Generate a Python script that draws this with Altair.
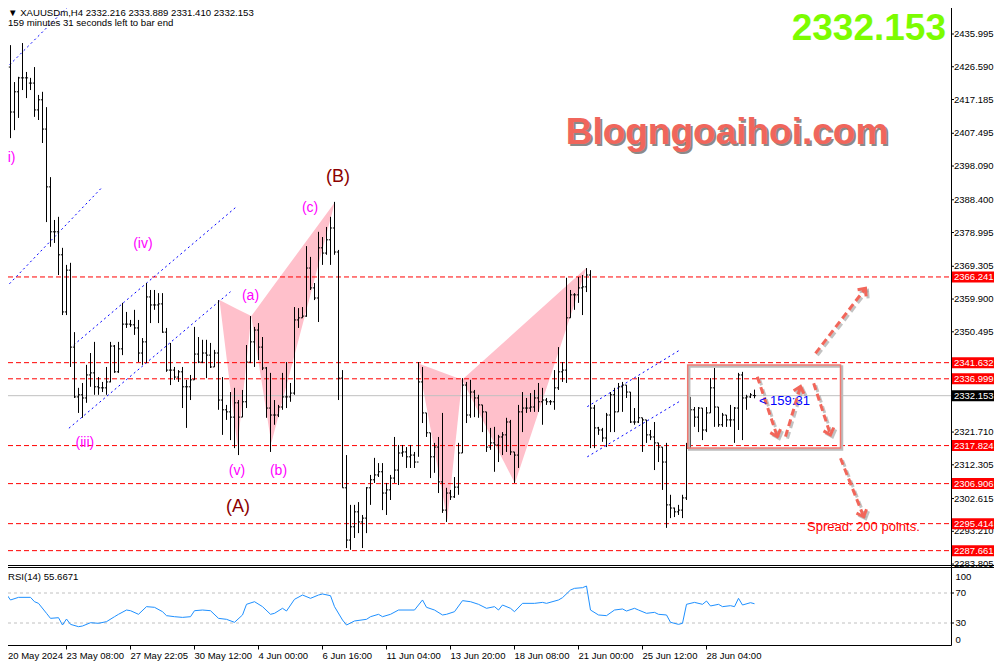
import math
import altair as alt
import pandas as pd

# ---------------- data ----------------
highs = [
    2438.6, 2430.0, 2432.8, 2422.2, 2423.7, 2433.4, 2425.1, 2423.4, 2426.5, 2418.5,
    2419.4, 2415.0, 2394.9, 2382.6, 2383.5, 2374.6, 2369.7, 2370.3, 2350.4, 2334.4,
    2335.8, 2341.0, 2344.4, 2347.6, 2337.5, 2336.1, 2340.4, 2347.6, 2346.7, 2347.6,
    2358.8, 2356.2, 2353.9, 2356.8, 2353.9, 2348.7, 2364.5, 2362.5, 2362.5, 2361.6,
    2361.6, 2351.6, 2347.3, 2340.4, 2339.5, 2340.4, 2336.7, 2338.1, 2351.9, 2349.0,
    2348.2, 2348.2, 2347.3, 2345.3, 2359.6, 2337.5, 2329.5, 2333.2, 2334.4, 2330.9,
    2333.8, 2346.7, 2355.0, 2351.9, 2353.0, 2349.0, 2340.4, 2338.7, 2330.9, 2329.5,
    2338.7, 2341.8, 2335.8, 2357.6, 2357.3, 2357.6, 2375.1, 2372.0, 2364.5, 2379.2,
    2377.7, 2380.6, 2383.5, 2387.8, 2374.0, 2339.5, 2315.1, 2300.8, 2300.8, 2301.6,
    2297.9, 2305.9, 2309.4, 2314.3, 2312.8, 2312.8, 2307.1, 2309.4, 2320.3, 2318.0,
    2318.0, 2317.4, 2318.0, 2316.0, 2341.8, 2340.4, 2327.2, 2321.5, 2318.6, 2320.3,
    2327.2, 2305.7, 2305.1, 2308.8, 2318.6, 2337.2, 2336.1, 2336.7, 2333.8, 2332.4,
    2329.5, 2327.5, 2322.9, 2323.2, 2320.9, 2321.7, 2325.8, 2325.2, 2316.0, 2329.5,
    2333.2, 2331.5, 2332.9, 2333.8, 2335.8, 2334.4, 2331.5, 2330.9, 2339.5, 2346.1,
    2341.8, 2366.0, 2362.5, 2361.6, 2366.2, 2366.8, 2368.8, 2368.2, 2329.5, 2323.2,
    2322.9, 2327.2, 2333.2, 2334.4, 2335.8, 2336.1, 2335.2, 2333.2, 2328.6, 2337.5,
    2325.8, 2325.2, 2322.3, 2324.6, 2318.6, 2317.4, 2318.6, 2303.7, 2300.0, 2300.8,
    2303.7, 2318.6, 2331.8, 2328.9, 2328.9, 2328.6, 2328.9, 2337.2, 2340.1, 2328.9,
    2327.2, 2326.6, 2329.5, 2328.9, 2338.7, 2339.0, 2332.4, 2332.9, 2333.889]
lows = [
    2422.2, 2423.4, 2406.1, 2408.4, 2411.9, 2419.9, 2417.6, 2419.9, 2412.2, 2411.3,
    2404.7, 2382.0, 2374.9, 2376.0, 2366.8, 2355.3, 2355.3, 2340.4, 2331.5, 2327.2,
    2325.8, 2330.1, 2334.7, 2332.4, 2332.4, 2333.2, 2332.4, 2336.0, 2338.7, 2338.7,
    2343.8, 2351.6, 2351.9, 2349.6, 2341.8, 2341.0, 2341.5, 2353.0, 2356.8, 2353.0,
    2350.2, 2339.0, 2335.2, 2336.7, 2336.1, 2328.6, 2322.9, 2330.9, 2336.7, 2341.5,
    2341.5, 2337.2, 2340.1, 2340.4, 2328.1, 2320.9, 2325.2, 2319.4, 2317.1, 2315.1,
    2326.0, 2328.6, 2341.5, 2340.4, 2342.4, 2339.5, 2325.8, 2316.0, 2323.8, 2326.0,
    2328.1, 2328.6, 2330.4, 2332.4, 2351.6, 2354.5, 2354.8, 2362.5, 2359.6, 2353.3,
    2369.7, 2372.6, 2369.7, 2372.6, 2330.9, 2305.7, 2288.4, 2287.9, 2291.3, 2292.7,
    2288.4, 2292.7, 2300.8, 2307.1, 2308.8, 2299.3, 2297.9, 2302.2, 2307.1, 2306.5,
    2314.6, 2311.4, 2311.4, 2311.4, 2314.6, 2324.3, 2320.3, 2308.5, 2310.0, 2304.2,
    2298.5, 2295.9, 2302.2, 2302.8, 2303.7, 2315.7, 2324.3, 2325.8, 2326.0, 2325.8,
    2321.7, 2316.0, 2316.6, 2310.3, 2313.1, 2315.1, 2316.0, 2315.1, 2307.1, 2311.4,
    2321.7, 2327.2, 2327.5, 2327.5, 2327.5, 2323.8, 2329.5, 2329.5, 2328.1, 2333.8,
    2336.1, 2335.8, 2354.5, 2356.8, 2358.8, 2355.3, 2361.9, 2317.1, 2317.1, 2320.9,
    2318.9, 2317.4, 2321.7, 2321.7, 2327.5, 2327.5, 2331.5, 2324.3, 2323.8, 2324.3,
    2316.0, 2318.6, 2319.4, 2310.8, 2313.1, 2305.1, 2294.2, 2297.0, 2297.3, 2297.9,
    2297.0, 2302.2, 2316.6, 2323.2, 2321.7, 2319.4, 2321.7, 2327.2, 2323.2, 2323.2,
    2323.2, 2323.2, 2323.2, 2318.6, 2322.3, 2319.4, 2328.1, 2331.5, 2331.410]
opens = [
    2426.5, 2426.2, 2426.5, 2413.6, 2419.4, 2423.4, 2423.4, 2421.9, 2421.9, 2414.2,
    2417.1, 2408.7, 2392.1, 2379.2, 2379.2, 2372.6, 2356.2, 2368.2, 2346.1, 2331.8,
    2332.4, 2331.5, 2338.1, 2338.7, 2334.7, 2334.4, 2334.4, 2336.1, 2346.4, 2339.0,
    2345.6, 2352.7, 2352.7, 2352.5, 2351.6, 2344.4, 2347.6, 2360.5, 2358.2, 2358.2,
    2358.5, 2350.4, 2339.5, 2339.5, 2337.5, 2339.0, 2334.7, 2334.7, 2336.7, 2344.1,
    2341.8, 2344.4, 2343.8, 2340.4, 2344.4, 2330.9, 2328.1, 2327.5, 2326.0, 2330.1,
    2326.0, 2330.4, 2341.8, 2347.6, 2351.0, 2346.1, 2340.1, 2328.6, 2326.6, 2326.6,
    2328.9, 2331.8, 2331.8, 2332.9, 2353.9, 2354.5, 2355.0, 2368.8, 2363.1, 2360.2,
    2374.6, 2373.1, 2376.9, 2380.3, 2373.4, 2337.2, 2305.7, 2290.7, 2294.5, 2298.8,
    2295.9, 2297.0, 2305.7, 2308.0, 2309.4, 2310.3, 2304.2, 2305.1, 2308.5, 2310.8,
    2315.7, 2316.0, 2314.6, 2315.1, 2313.1, 2336.1, 2327.2, 2321.5, 2314.6, 2317.4,
    2307.4, 2299.3, 2304.2, 2303.1, 2305.9, 2315.7, 2335.2, 2326.6, 2333.2, 2331.5,
    2329.5, 2327.5, 2317.4, 2318.6, 2318.0, 2320.3, 2320.9, 2324.6, 2316.0, 2315.1,
    2327.5, 2328.6, 2328.6, 2328.9, 2331.5, 2330.4, 2330.9, 2330.4, 2330.4, 2334.4,
    2339.0, 2339.5, 2354.5, 2361.1, 2361.1, 2363.1, 2363.4, 2366.8, 2328.6, 2322.9,
    2322.3, 2320.0, 2326.6, 2332.4, 2327.5, 2334.7, 2335.2, 2333.2, 2324.6, 2324.6,
    2325.8, 2325.2, 2320.9, 2320.3, 2318.6, 2317.4, 2313.1, 2300.8, 2299.9, 2298.8,
    2299.3, 2302.8, 2317.1, 2328.1, 2326.0, 2328.6, 2322.3, 2327.2, 2334.4, 2328.9,
    2323.8, 2326.6, 2325.2, 2325.2, 2328.6, 2338.1, 2331.5, 2331.8, 2332.216]
closes = [
    2425.7, 2426.5, 2413.6, 2419.4, 2423.4, 2423.4, 2423.4, 2421.9, 2414.2, 2417.1,
    2408.7, 2392.1, 2379.2, 2379.2, 2372.6, 2356.2, 2368.2, 2346.1, 2331.8, 2332.4,
    2331.5, 2338.1, 2338.7, 2334.7, 2334.4, 2334.4, 2336.1, 2346.4, 2339.0, 2345.6,
    2352.7, 2352.7, 2352.5, 2351.6, 2344.4, 2347.6, 2360.5, 2358.2, 2358.2, 2358.5,
    2350.4, 2339.5, 2339.5, 2337.5, 2339.0, 2334.7, 2334.7, 2336.7, 2344.1, 2341.8,
    2344.4, 2343.8, 2340.4, 2344.4, 2330.9, 2328.1, 2327.5, 2326.0, 2330.1, 2326.0,
    2330.4, 2341.8, 2347.6, 2351.0, 2346.1, 2340.1, 2328.6, 2326.6, 2326.6, 2328.9,
    2331.8, 2331.8, 2332.9, 2353.9, 2354.5, 2355.0, 2368.8, 2363.1, 2360.2, 2374.6,
    2373.1, 2376.9, 2380.3, 2373.4, 2337.2, 2305.7, 2290.7, 2294.5, 2298.8, 2295.9,
    2297.0, 2305.7, 2308.0, 2309.4, 2310.3, 2304.2, 2305.1, 2308.5, 2310.8, 2315.7,
    2316.0, 2314.6, 2315.1, 2313.1, 2336.1, 2327.2, 2321.5, 2314.6, 2317.4, 2307.4,
    2299.3, 2304.2, 2303.1, 2305.9, 2315.7, 2335.2, 2326.6, 2333.2, 2331.5, 2329.5,
    2327.5, 2317.4, 2318.6, 2318.0, 2320.3, 2320.9, 2324.6, 2316.0, 2315.1, 2327.5,
    2328.6, 2328.6, 2328.9, 2331.5, 2330.4, 2330.9, 2330.4, 2330.4, 2334.4, 2339.0,
    2339.5, 2354.5, 2361.1, 2361.1, 2363.1, 2363.4, 2366.8, 2328.6, 2322.9, 2322.3,
    2320.0, 2326.6, 2332.4, 2327.5, 2334.7, 2335.2, 2333.2, 2324.6, 2324.6, 2325.8,
    2325.2, 2320.9, 2320.3, 2318.6, 2317.4, 2313.1, 2300.8, 2299.9, 2298.8, 2299.3,
    2302.8, 2317.1, 2328.1, 2326.0, 2328.6, 2322.3, 2327.2, 2334.4, 2328.9, 2323.8,
    2326.6, 2325.2, 2325.2, 2328.6, 2338.1, 2331.5, 2331.8, 2332.4, 2332.153]

rsi_bar = [0, 1, 2, 4, 7, 8, 9, 11, 12, 14, 15, 16, 17, 19, 20, 22, 24, 26, 28, 29,
           31, 32, 34, 36, 38, 40, 41, 43, 45, 47, 48, 50, 52, 54, 56, 58, 60, 61, 63, 65,
           67, 68, 70, 71, 73, 75, 77, 79, 80, 82, 83, 85, 86, 88, 91, 92, 94, 95, 97, 99,
           103, 105, 106, 108, 110, 111, 113, 115, 117, 119, 121, 123, 124, 125, 127, 128,
           130, 133, 135, 136, 139, 140, 142, 143, 145, 146, 147, 149, 151, 153, 155, 156,
           158, 159, 161, 163, 164, 166, 167, 169, 170, 171, 173, 175, 176, 177, 179, 180,
           182, 183, 184, 185, 187, 188]
rsi_val = [69.6, 68.2, 60.7, 64.2, 64.2, 58.4, 56.2, 42.9, 36.2, 37.1, 27.3, 35.3, 28.2,
           25.1, 26.0, 30.4, 29.6, 31.8, 38.4, 41.6, 47.3, 46.4, 41.6, 51.8, 50.9, 45.1,
           39.8, 38.4, 37.5, 38.4, 46.4, 47.3, 46.4, 36.2, 34.9, 30.9, 40.7, 54.9, 58.4,
           51.8, 41.6, 42.9, 49.6, 46.0, 61.6, 67.3, 62.9, 67.3, 68.7, 66.4, 51.8, 34.0,
           27.3, 32.7, 34.9, 38.4, 41.6, 38.4, 41.6, 47.3, 47.3, 60.7, 50.9, 47.3, 40.7,
           41.6, 45.1, 59.8, 58.4, 54.9, 49.6, 51.8, 47.3, 54.0, 49.6, 45.1, 56.2, 56.2,
           57.5, 56.2, 60.7, 63.8, 74.0, 76.2, 77.1, 79.3, 47.3, 40.7, 39.8, 47.3, 48.7,
           46.0, 49.6, 47.3, 42.9, 44.2, 41.6, 40.7, 30.9, 28.2, 29.6, 54.9, 57.5, 54.9,
           59.3, 52.7, 54.9, 51.8, 53.1, 51.8, 62.9, 54.0, 57.1, 55.7]

levels = [2366.241, 2341.632, 2336.999, 2317.824, 2306.906, 2295.414, 2287.661]
last_price = 2332.153
price_ticks = [2435.995, 2426.590, 2417.185, 2407.495, 2398.090, 2388.400, 2378.995,
               2369.305, 2359.900, 2350.495, 2321.710, 2312.305, 2302.615, 2293.210, 2283.805]
rsi_ticks = [100, 70, 30, 0]
date_ticks = [16, 32, 48, 64, 80, 96, 112, 128, 144, 160, 176]
date_labels = ["23 May 08:00", "27 May 22:05", "30 May 12:00", "4 Jun 00:00", "6 Jun 16:00",
               "11 Jun 04:00", "13 Jun 20:00", "18 Jun 08:00", "21 Jun 00:00",
               "25 Jun 12:00", "28 Jun 04:00"]
first_date_label = "20 May 2024"

wave_text = ["(i)", "(iv)", "(iii)", "(v)", "(a)", "(b)", "(c)"]
wave_bar = [1.7, 35.1, 20.6, 58.6, 62.0, 69.0, 76.9]
wave_price = [2400.4, 2375.7, 2318.6, 2310.5, 2360.8, 2310.5, 2386.0]
big_text = ["(B)", "(A)"]
big_bar = [83.9, 58.9]
big_price = [2394.9, 2300.2]

tri_bar = [[54.25, 62.2, 58.75], [62.2, 67.2, 83.1], [104.0, 114.9, 111.2], [114.9, 128.1, 146.0]]
tri_price = [[2359.6, 2355.0, 2317.5], [2355.0, 2318.6, 2387.7],
             [2341.4, 2336.7, 2296.5], [2336.7, 2307.0, 2368.9]]

chan_bar = [[0, 17.5], [0, 25], [17.8, 58.7], [16.6, 57.0], [146.2, 169.1], [146.2, 169.1]]
chan_price = [[2425.1, 2445.2], [2362.2, 2392.1], [2346.7, 2386.6], [2322.8, 2362.0],
              [2329.0, 2345.1], [2314.6, 2330.4]]

arrow_bar = [[188.7, 193.7], [195.75, 199.5], [202.8, 207.0], [203.25, 215.75], [209.5, 215.3]]
arrow_price = [[2337.6, 2320.4], [2320.4, 2334.8], [2335.7, 2320.9], [2344.3, 2363.0], [2314.2, 2297.4]]

box_bar = [171.3, 209.5]
box_price = [2340.97, 2317.1]

header1 = "\u25bc XAUUSDm,H4  2332.216 2333.889 2331.410 2332.153"
header2 = "159 minutes 31 seconds left to bar end"
rsi_title = "RSI(14) 55.6671"

# ---------------- scales ----------------
W, H = 986, 656
PX_PER_BAR = 4.0
PX_PER_PRICE = 557.0 / (2443.46 - 2283.54)
XS = alt.Scale(domain=[0, 236], range=[-5.5, 938.5], zero=False, nice=False)
PS = alt.Scale(domain=[2283.54, 2443.46], range=[557, 0], zero=False, nice=False)
RS = alt.Scale(domain=[0, 100], range=[637.5, 562.5], zero=False, nice=False)
LAB_X = 945.5


def X(f):
    return alt.X(f, type="quantitative", scale=XS, axis=None)


def P(f):
    return alt.Y(f, type="quantitative", scale=PS, axis=None)


def R(f):
    return alt.Y(f, type="quantitative", scale=RS, axis=None)


SANS = "Liberation Sans"
layers = []

# pink triangles (area between the two boundaries of each triangle)
tri_rows = []
for k, (bx, py) in enumerate(zip(tri_bar, tri_price)):
    pts = sorted(zip(bx, py))
    (x0, y0), (x1, y1), (x2, y2) = pts
    mid = y0 + (y2 - y0) * (x1 - x0) / (x2 - x0)
    tri_rows += [dict(t=k, i=x0, a=y0, b=y0), dict(t=k, i=x1, a=y1, b=mid),
                 dict(t=k, i=x2, a=y2, b=y2)]
layers.append(alt.Chart(pd.DataFrame(tri_rows)).mark_area(color="#FFC0CB", opacity=1)
              .encode(x=X("i"), y=P("a"), y2=alt.Y2("b"), detail="t:N"))

# level lines
layers.append(alt.Chart(pd.DataFrame({"p": levels})).mark_rule(
    color="#FF0000", strokeWidth=1, strokeDash=[5, 3])
    .encode(x=alt.value(0), x2=alt.value(943), y=P("p")))
layers.append(alt.Chart(pd.DataFrame({"p": [last_price]})).mark_rule(
    color="#C0C0C0", strokeWidth=1)
    .encode(x=alt.value(0), x2=alt.value(943), y=P("p")))

# blue dotted channels
ch_rows = []
for k, (bx, py) in enumerate(zip(chan_bar, chan_price)):
    for a, b in zip(bx, py):
        ch_rows.append(dict(g=k, i=a, p=b))
layers.append(alt.Chart(pd.DataFrame(ch_rows)).mark_line(
    color="#0000FF", strokeWidth=1, strokeDash=[2, 3])
    .encode(x=X("i"), y=P("p"), detail="g:N"))

# OHLC bars
n = min(len(highs), len(lows), len(opens), len(closes))
bars = pd.DataFrame({"i": list(range(n)), "h": highs[:n], "l": lows[:n],
                     "o": opens[:n], "c": closes[:n]})
base = alt.Chart(bars)
layers.append(base.mark_rule(color="black", strokeWidth=1)
              .encode(x=X("i"), y=P("l"), y2=alt.Y2("h")))
layers.append(base.transform_calculate(a="datum.i - 0.4").mark_rule(color="black", strokeWidth=1)
              .encode(x=X("a"), x2=alt.X2("i"), y=P("o")))
layers.append(base.transform_calculate(b="datum.i + 0.4").mark_rule(color="black", strokeWidth=1)
              .encode(x=X("i"), x2=alt.X2("b"), y=P("c")))

# box
box_df = pd.DataFrame({"x1": [box_bar[0]], "x2": [box_bar[1]], "p1": [box_price[0]], "p2": [box_price[1]]})
layers.append(alt.Chart(box_df).mark_rect(fill="transparent", stroke="#BDBDBD", strokeWidth=2.5,
                                          xOffset=1.5, yOffset=1.5, x2Offset=1.5, y2Offset=1.5)
              .encode(x=X("x1"), x2=alt.X2("x2"), y=P("p1"), y2=alt.Y2("p2")))
layers.append(alt.Chart(box_df).mark_rect(fill="transparent", stroke="#F07870", strokeWidth=1.5)
              .encode(x=X("x1"), x2=alt.X2("x2"), y=P("p1"), y2=alt.Y2("p2")))

# arrows
ar_rows, head_rows = [], []
for k, (bx, py) in enumerate(zip(arrow_bar, arrow_price)):
    ar_rows += [dict(g=k, i=bx[0], p=py[0]), dict(g=k, i=bx[1], p=py[1])]
    dx = (bx[1] - bx[0]) * PX_PER_BAR
    dy = -(py[1] - py[0]) * PX_PER_PRICE
    ang = math.degrees(math.atan2(dx, -dy)) % 360
    head_rows.append(dict(i=bx[1], p=py[1], ang=ang))
ar_df = pd.DataFrame(ar_rows)
hd_df = pd.DataFrame(head_rows)
chev = "M -0.85 0.95 L 0 0 L 0.85 0.95"
layers.append(alt.Chart(ar_df).mark_line(color="#9A9A9A", opacity=0.6, strokeWidth=3,
                                         strokeDash=[7, 4], xOffset=2, yOffset=2)
              .encode(x=X("i"), y=P("p"), detail="g:N"))
layers.append(alt.Chart(hd_df).mark_point(shape=chev, filled=False, color="#9A9A9A", opacity=0.6,
                                          strokeWidth=3, size=160, xOffset=2, yOffset=2)
              .encode(x=X("i"), y=P("p"), angle=alt.Angle("ang:Q", scale=None)))
layers.append(alt.Chart(ar_df).mark_line(color="#F2665A", strokeWidth=3, strokeDash=[7, 4])
              .encode(x=X("i"), y=P("p"), detail="g:N"))
layers.append(alt.Chart(hd_df).mark_point(shape=chev, filled=False, color="#F2665A",
                                          strokeWidth=3, size=160, opacity=1)
              .encode(x=X("i"), y=P("p"), angle=alt.Angle("ang:Q", scale=None)))

# wave labels
layers.append(alt.Chart(pd.DataFrame({"t": wave_text, "i": wave_bar, "p": wave_price}))
              .mark_text(color="#FF00FF", font=SANS, fontSize=14, align="center", baseline="middle")
              .encode(x=X("i"), y=P("p"), text="t:N"))
layers.append(alt.Chart(pd.DataFrame({"t": big_text, "i": big_bar, "p": big_price}))
              .mark_text(color="#8B0000", font=SANS, fontSize=18, align="center", baseline="middle")
              .encode(x=X("i"), y=P("p"), text="t:N"))

# countdown + spread
layers.append(alt.Chart(pd.DataFrame({"t": ["< 159:31"], "i": [189.1], "p": [last_price]}))
              .mark_text(color="#0000FF", font=SANS, fontSize=13, align="left", baseline="middle", dy=5)
              .encode(x=X("i"), y=P("p"), text="t:N"))
layers.append(alt.Chart(pd.DataFrame({"t": ["Spread: 200 points."]}))
              .mark_text(color="#FF0000", font=SANS, fontSize=13, align="left", baseline="middle")
              .encode(x=alt.value(799), y=alt.value(519), text="t:N"))

# watermark + big price
wm = pd.DataFrame({"t": ["Blogngoaihoi.com"]})
layers.append(alt.Chart(wm).mark_text(color="#8A8A8A", font=SANS, fontSize=37, fontWeight="bold",
                                      align="center", baseline="alphabetic")
              .encode(x=alt.value(721), y=alt.value(138), text="t:N"))
layers.append(alt.Chart(wm).mark_text(color="#F0665C", font=SANS, fontSize=37, fontWeight="bold",
                                      align="center", baseline="alphabetic")
              .encode(x=alt.value(719), y=alt.value(136), text="t:N"))
layers.append(alt.Chart(pd.DataFrame({"t": ["2332.153"]}))
              .mark_text(color="#7CFC00", font=SANS, fontSize=37, fontWeight="bold",
                         align="right", baseline="alphabetic")
              .encode(x=alt.value(938), y=alt.value(32), text="t:N"))

# header
layers.append(alt.Chart(pd.DataFrame({"t": [header1, header2], "y": [7.5, 18.0]}))
              .mark_text(color="black", font=SANS, fontSize=9.6, align="left", baseline="alphabetic")
              .encode(x=alt.value(0), y=alt.Y("y:Q", scale=None), text="t:N"))

# price axis
layers.append(alt.Chart(pd.DataFrame({"v": [0]})).mark_rule(color="black", strokeWidth=1)
              .encode(x=alt.value(943.5), y=alt.value(0), y2=alt.value(637.5)))
layers.append(alt.Chart(pd.DataFrame({"p": price_ticks})).mark_rule(color="black", strokeWidth=1)
              .encode(x=alt.value(943.5), x2=alt.value(946), y=P("p")))
layers.append(alt.Chart(pd.DataFrame({"p": price_ticks})).transform_calculate(
    t="format(datum.p, '.3f')")
    .mark_text(color="black", font=SANS, fontSize=9.5, align="left", baseline="middle")
    .encode(x=alt.value(LAB_X + 0.5), y=P("p"), text="t:N"))
lab_df = pd.DataFrame({"p": levels + [last_price],
                       "bg": ["#FF0000"] * len(levels) + ["#000000"]})
layers.append(alt.Chart(lab_df).mark_rect(yOffset=-5.5, y2Offset=5.5)
              .encode(x=alt.value(944), x2=alt.value(986), y=P("p"), y2=alt.Y2("p"),
                      color=alt.Color("bg:N", scale=None)))
layers.append(alt.Chart(lab_df).transform_calculate(t="format(datum.p, '.3f')")
              .mark_text(color="white", font=SANS, fontSize=9.5, align="left", baseline="middle")
              .encode(x=alt.value(LAB_X + 0.5), y=P("p"), text="t:N"))

# separator between panels
layers.append(alt.Chart(pd.DataFrame({"y": [557.5, 559.5]})).mark_rule(color="black", strokeWidth=1)
              .encode(x=alt.value(0), x2=alt.value(986), y=alt.Y("y:Q", scale=None)))

# RSI panel
layers.append(alt.Chart(pd.DataFrame({"r": [70, 30]})).mark_rule(
    color="#C0C0C0", strokeWidth=1, strokeDash=[3, 3])
    .encode(x=alt.value(0), x2=alt.value(943), y=R("r")))
layers.append(alt.Chart(pd.DataFrame({"i": rsi_bar, "r": rsi_val})).mark_line(
    color="#1E90FF", strokeWidth=1)
    .encode(x=X("i"), y=R("r")))
layers.append(alt.Chart(pd.DataFrame({"t": [rsi_title]}))
              .mark_text(color="black", font=SANS, fontSize=9.6, align="left", baseline="middle")
              .encode(x=alt.value(0), y=alt.value(569), text="t:N"))
layers.append(alt.Chart(pd.DataFrame({"r": [70, 30]})).mark_rule(color="black", strokeWidth=1)
              .encode(x=alt.value(943.5), x2=alt.value(946), y=R("r")))
rt = pd.DataFrame({"r": rsi_ticks, "t": [str(v) for v in rsi_ticks]})
layers.append(alt.Chart(rt).transform_filter("datum.r == 70 || datum.r == 30")
              .mark_text(color="black", font=SANS, fontSize=9.5, align="left", baseline="middle")
              .encode(x=alt.value(LAB_X + 2), y=R("r"), text="t:N"))
layers.append(alt.Chart(rt).transform_filter("datum.r == 100")
              .mark_text(color="black", font=SANS, fontSize=9.5, align="left", baseline="top", dy=1)
              .encode(x=alt.value(LAB_X + 2), y=R("r"), text="t:N"))
layers.append(alt.Chart(rt).transform_filter("datum.r == 0")
              .mark_text(color="black", font=SANS, fontSize=9.5, align="left", baseline="bottom", dy=-1)
              .encode(x=alt.value(LAB_X + 2), y=R("r"), text="t:N"))

# time axis
layers.append(alt.Chart(pd.DataFrame({"v": [0]})).mark_rule(color="black", strokeWidth=1)
              .encode(x=alt.value(0), x2=alt.value(943.5), y=alt.value(637.5)))
dt = pd.DataFrame({"i": date_ticks, "t": date_labels})
layers.append(alt.Chart(dt).mark_rule(color="black", strokeWidth=1)
              .encode(x=X("i"), y=alt.value(637.5), y2=alt.value(641.5)))
layers.append(alt.Chart(dt).mark_text(color="black", font=SANS, fontSize=9.5, align="left",
                                      baseline="top")
              .encode(x=X("i"), y=alt.value(643), text="t:N"))
layers.append(alt.Chart(pd.DataFrame({"t": [first_date_label]}))
              .mark_text(color="black", font=SANS, fontSize=9.5, align="left", baseline="top")
              .encode(x=alt.value(0), y=alt.value(643), text="t:N"))

chart = (alt.layer(*layers)
         .resolve_scale(y="independent", color="independent", angle="independent")
         .properties(width=W, height=H, autosize=alt.AutoSizeParams(type="none"), padding=0,
                     background="white")
         .configure_view(stroke=None))

chart.save("out.html", embed_options={"renderer": "svg", "actions": False})
